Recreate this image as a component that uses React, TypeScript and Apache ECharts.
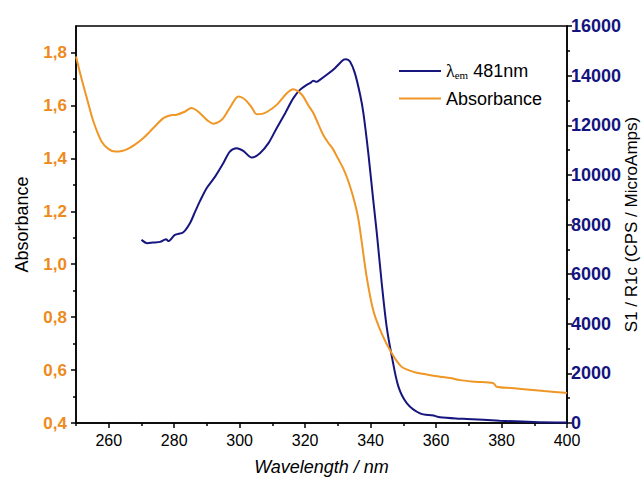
import React, { useEffect, useRef } from "react";
import * as echarts from "echarts";

const absWavelength = [
  250, 251.5, 253.3, 255.3, 257.8, 260, 262, 264, 266, 268, 270.6, 272.5, 274.6, 276.5, 277.7, 279,
  280.8, 283, 285.3, 287, 288.9, 290.5, 292, 293.5, 295, 297.2, 299.6, 301, 302.2, 303.8, 305.2,
  306.8, 308.3, 311.3, 314.4, 316.4, 318, 319.4, 321, 322.5, 324, 325.5, 327, 328.6, 330, 331.6,
  333, 334.2, 335.2, 336.2, 337, 338.8, 340.8, 343.4, 346.5, 349.5, 352, 354.1, 361.2, 364.3,
  367.3, 372, 377.5, 378.5, 383, 387.7, 393, 399.4, 400,
];
const absorbance = [
  1.785, 1.71, 1.628, 1.54, 1.464, 1.435, 1.426, 1.428, 1.437, 1.452, 1.477, 1.5, 1.527, 1.55, 1.558,
  1.563, 1.565, 1.575, 1.59, 1.58, 1.558, 1.54, 1.531, 1.537, 1.552, 1.595, 1.634, 1.628, 1.615, 1.59,
  1.567, 1.568, 1.575, 1.602, 1.646, 1.661, 1.652, 1.634, 1.6, 1.571, 1.53, 1.489, 1.46, 1.433, 1.4,
  1.363, 1.32, 1.275, 1.23, 1.175, 1.11, 0.952, 0.826, 0.738, 0.663, 0.612, 0.598, 0.59, 0.575, 0.57,
  0.562, 0.556, 0.55, 0.537, 0.532, 0.527, 0.521, 0.514, 0.513,
];

const emWavelength = [
  270, 271.8, 273.5, 275.7, 277.5, 278.2, 280.2, 282.8, 284.8, 286.4, 287.9, 289.9, 292.5, 295, 297,
  299.1, 301.1, 303.7, 306.2, 308.8, 311.3, 313.9, 316.4, 318.4, 320.5, 321.5, 322.5, 323.5, 324.5,
  326.6, 329.1, 331.7, 332.5, 333.7, 335.2, 336.8, 337.8, 339.3, 340.8, 341.9, 343.4, 344.9, 346.5,
  348.5, 351.1, 355.1, 359.2, 361.2, 367.3, 369.4, 379.5, 389.7, 400,
];
const emission = [
  7380, 7245, 7270, 7300, 7410, 7330, 7580, 7690, 8050, 8520, 8950, 9464, 9931, 10472, 10940, 11077,
  10968, 10698, 10875, 11278, 11883, 12488, 13093, 13427, 13629, 13700, 13790, 13750, 13831, 14032,
  14302, 14637, 14660, 14569, 14101, 13226, 12488, 10875, 8992, 7650, 5633, 3883, 2673, 1464, 794, 391,
  300, 230, 173, 165, 93, 40, 20,
];

const xMajorTicks = [260, 280, 300, 320, 340, 360, 380, 400];
const xMinorTicks = [250, 270, 290, 310, 330, 350, 370, 390];
const absMajorTicks = [0.4, 0.6, 0.8, 1.0, 1.2, 1.4, 1.6, 1.8];
const absMinorTicks = [0.5, 0.7, 0.9, 1.1, 1.3, 1.5, 1.7];

const ORANGE_LINE = "#EF9624";
const ORANGE_TEXT = "#EE8A1C";
const NAVY_LINE = "#16167E";
const NAVY_TEXT = "#14147F";
const FONT = "'Liberation Sans', Arial, sans-serif";

export default function App() {
  const ref = useRef<HTMLDivElement>(null);

  useEffect(() => {
    if (!ref.current) return;
    const chart = echarts.init(ref.current, null, { renderer: "svg" });
    const axisLine = { show: true, lineStyle: { color: "#000", width: 1.5 } };
    const option: any = {
      animation: false,
      textStyle: { fontFamily: FONT },
      grid: {
        left: 76,
        right: 75,
        top: 26,
        bottom: 55,
        containLabel: false,
        outerBoundsMode: "none",
        show: true,
        borderColor: "#000",
        borderWidth: 1.5,
        backgroundColor: "transparent",
      },
      legend: {
        orient: "vertical",
        left: 394,
        top: 57,
        icon: "rect",
        itemWidth: 42,
        itemHeight: 2,
        itemGap: 9,
        textStyle: {
          fontFamily: FONT,
          fontSize: 18,
          color: "#000",
          rich: {
            l: { fontFamily: "'Liberation Serif', serif", fontSize: 18, color: "#000" },
            s: { fontFamily: "'Liberation Serif', serif", fontSize: 11, color: "#000", padding: [8, 0, 0, 0] },
            n: { fontFamily: FONT, fontSize: 18, color: "#000" },
          },
        },
        formatter: (name: string) =>
          name === "emission" ? "{l|λ}{s|em}{n| 481nm}" : name,
        data: ["emission", "Absorbance"],
      },
      xAxis: [
        {
          type: "value",
          min: 250,
          max: 400,
          position: "bottom",
          axisLine,
          axisTick: { show: true, customValues: xMajorTicks, length: 5, lineStyle: { color: "#000", width: 1.5 } },
          axisLabel: { customValues: xMajorTicks, color: "#000", fontSize: 16, margin: 9, fontFamily: FONT },
          splitLine: { show: false },
          name: "Wavelength / nm",
          nameLocation: "middle",
          nameGap: 35,
          nameTextStyle: { color: "#000", fontSize: 18, fontStyle: "italic", fontFamily: FONT },
        },
        {
          type: "value",
          min: 250,
          max: 400,
          position: "bottom",
          axisLine: { show: false },
          axisTick: { show: true, customValues: xMinorTicks, length: 3, lineStyle: { color: "#000", width: 1.5 } },
          axisLabel: { show: false },
          splitLine: { show: false },
        },
      ],
      yAxis: [
        {
          type: "value",
          min: 0.4,
          max: 1.9,
          position: "left",
          axisLine,
          axisTick: { show: true, customValues: absMajorTicks, length: 5, lineStyle: { color: "#000", width: 1.5 } },
          axisLabel: {
            customValues: absMajorTicks,
            color: ORANGE_TEXT,
            fontWeight: "bold",
            fontSize: 17,
            margin: 9,
            fontFamily: FONT,
            formatter: (v: number) => v.toFixed(1).replace(".", ","),
          },
          splitLine: { show: false },
          name: "Absorbance",
          nameLocation: "middle",
          nameGap: 45,
          nameRotate: 90,
          nameTextStyle: { color: "#000", fontSize: 18, fontFamily: FONT },
        },
        {
          type: "value",
          min: 0.4,
          max: 1.9,
          position: "left",
          axisLine: { show: false },
          axisTick: { show: true, customValues: absMinorTicks, length: 3, lineStyle: { color: "#000", width: 1.5 } },
          axisLabel: { show: false },
          splitLine: { show: false },
        },
        {
          type: "value",
          min: 0,
          max: 16000,
          interval: 2000,
          position: "right",
          axisLine,
          axisTick: { show: true, length: 5, lineStyle: { color: "#000", width: 1.5 } },
          minorTick: { show: true, splitNumber: 2, length: 3, lineStyle: { color: "#000", width: 1.5 } },
          axisLabel: {
            color: NAVY_TEXT,
            fontWeight: "bold",
            fontSize: 18,
            margin: 4,
            fontFamily: FONT,
            formatter: (v: number) => String(v),
          },
          splitLine: { show: false },
          minorSplitLine: { show: false },
          name: "S1 / R1c (CPS / MicroAmps)",
          nameLocation: "middle",
          nameGap: 64,
          nameRotate: 90,
          nameMoveOverlap: false,
          nameTextStyle: { color: "#000", fontSize: 17, fontFamily: FONT, verticalAlign: "middle" },
        },
      ],
      series: [
        {
          name: "emission",
          type: "line",
          xAxisIndex: 0,
          yAxisIndex: 2,
          symbol: "none",
          smooth: 0.3,
          color: NAVY_LINE,
          lineStyle: { color: NAVY_LINE, width: 2 },
          data: emWavelength.map((w, i) => [w, emission[i]]),
        },
        {
          name: "Absorbance",
          type: "line",
          xAxisIndex: 0,
          yAxisIndex: 0,
          symbol: "none",
          smooth: 0.3,
          color: ORANGE_LINE,
          lineStyle: { color: ORANGE_LINE, width: 2 },
          data: absWavelength.map((w, i) => [w, absorbance[i]]),
        },
      ],
    };
    chart.setOption(option);
    return () => chart.dispose();
  }, []);

  return (
    <div
      ref={ref}
      style={{ position: "absolute", left: 0, top: 0, width: 642, height: 478, background: "#fff" }}
    />
  );
}
